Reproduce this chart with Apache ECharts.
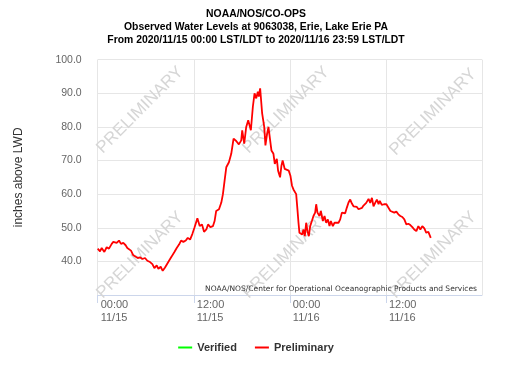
<!DOCTYPE html>
<html>
<head>
<meta charset="utf-8">
<script src="https://cdn.jsdelivr.net/npm/echarts@6/dist/echarts.min.js"></script>
<style>
html,body{margin:0;padding:0;background:#fff;}
#c{width:512px;height:373px;}
</style>
</head>
<body>
<div id="c"></div>
<script>
// Hours since 2020/11/15 00:00 LST/LDT
const hoursFromStart = [
  0.0,0.29,0.5,0.83,1.12,1.41,1.75,1.95,2.16,2.37,2.66,2.91,3.2,3.49,3.7,3.91,4.16,4.45,4.66,5.0,
  5.29,5.58,5.91,6.2,6.54,6.83,7.08,7.37,7.58,7.87,8.12,8.41,8.62,8.91,9.25,9.58,9.87,10.16,10.41,10.7,
  11.0,11.25,11.54,11.83,12.08,12.24,12.45,12.74,13.03,
  13.28,13.57,13.78,14.07,14.4,14.6,14.8,15.15,15.44,15.64,15.85,16.06,16.39,16.68,16.97,17.3,17.63,17.93,18.05,18.3,
  18.55,18.8,19.13,19.38,19.59,19.8,20.0,20.12,20.29,20.54,20.8,20.95,21.16,21.33,21.54,21.7,21.95,22.12,22.37,22.53,
  22.78,22.95,23.1,23.36,23.6,23.86,24.07,24.27,
  24.45,24.79,24.95,25.08,25.2,25.37,25.54,25.7,25.87,26.04,26.2,26.37,26.54,26.75,26.95,27.16,27.29,27.45,27.7,27.87,
  28.12,28.33,28.54,28.75,28.95,29.12,29.37,29.58,29.79,30.08,30.29,30.5,30.7,30.91,31.12,31.33,31.54,31.75,31.95,32.16,
  32.37,32.58,32.79,33.0,33.2,33.54,33.83,34.04,34.25,34.45,34.66,34.87,35.08,
  35.23,35.48,35.77,36.06,36.3,36.56,36.8,
  37.05,37.3,37.55,37.8,38.05,38.3,38.55,38.8,39.05,39.3,39.54,39.8,40.05,40.3,40.54,40.8,41.04,41.3,41.6
];
// Preliminary water level, inches above LWD
const preliminaryLevels = [
  43.8,43.0,44.0,42.8,44.2,43.8,45.2,45.8,46.2,45.5,46.2,45.2,45.5,44.8,44.0,44.2,43.2,41.8,41.5,41.0,
  41.2,40.7,41.0,40.2,39.8,39.2,38.0,38.8,37.8,38.4,37.2,38.2,38.6,40.2,41.5,42.8,44.0,45.0,46.2,45.8,
  46.2,47.0,46.5,48.2,50.0,50.0,52.8,50.5,51.0,
  48.8,49.5,51.0,50.2,50.5,52.0,55.0,55.5,57.5,60.0,64.0,68.0,69.5,72.0,76.5,75.8,74.8,76.0,79.0,75.0,
  80.0,82.0,79.0,86.0,90.0,88.5,90.5,89.0,91.5,84.0,80.0,74.5,78.0,80.0,76.0,73.0,72.0,69.0,70.5,67.0,
  65.0,68.5,70.0,67.5,68.0,67.0,65.5,62.5,
  61.4,60.0,55.4,51.5,48.5,49.0,48.0,49.5,47.5,51.5,49.0,47.5,50.5,52.0,53.5,54.5,57.0,54.5,53.5,55.0,
  52.0,53.5,51.5,52.5,50.5,52.0,50.5,51.5,52.0,51.5,52.5,54.5,55.0,54.3,56.0,57.5,58.4,57.2,56.4,55.9,
  56.2,55.5,55.2,55.9,56.6,57.4,58.6,57.4,58.9,56.4,57.4,58.4,57.0,
  58.0,56.8,57.0,57.0,56.5,55.0,55.5,
  54.5,54.8,54.0,53.5,53.2,52.5,51.0,51.2,50.8,50.2,49.5,49.0,50.5,49.5,50.5,49.8,48.5,48.8,47.0
];
const verifiedLevels = [];
const xTickLabels = ['00:00\n11/15', '12:00\n11/15', '00:00\n11/16', '12:00\n11/16', '00:00\n11/17'];
const titleLines = [
  'NOAA/NOS/CO-OPS',
  'Observed Water Levels at 9063038, Erie, Lake Erie PA',
  'From 2020/11/15 00:00 LST/LDT to 2020/11/16 23:59 LST/LDT'
];
const creditText = 'NOAA/NOS/Center for Operational Oceanographic Products and Services';
const watermarkText = 'PRELIMINARY';

const FONT = '"Liberation Sans", Arial, sans-serif';
const prelimData = hoursFromStart.map((h, i) => [h, preliminaryLevels[i]]);
const verData = verifiedLevels.map(d => d);

const wmCenters = [[140,110],[286,110],[433,112],[140,255],[286,255],[433,255]];
const graphics = wmCenters.map(c => ({
  type: 'text', x: c[0], y: c[1], rotation: Math.PI / 4, z: 1, silent: true,
  style: { text: watermarkText, fill: '#d6d6d6', font: '17px ' + FONT, align: 'center', verticalAlign: 'middle' }
}));
graphics.push({
  type: 'text', x: 477, y: 289, z: 3, silent: true,
  style: { text: creditText, fill: '#333', font: '7.5px "DejaVu Sans", sans-serif', align: 'right', verticalAlign: 'middle' }
});

const chart = echarts.init(document.getElementById('c'), null, { renderer: 'canvas' });
chart.setOption({
  animation: false,
  backgroundColor: '#fff',
  title: {
    text: titleLines.join('\n'),
    left: 'center', top: 3,
    textStyle: { fontFamily: FONT, fontSize: 10.4, fontWeight: 'bold', color: '#000', lineHeight: 12.7 }
  },
  legend: {
    left: 'center', top: 337,
    itemWidth: 14, itemHeight: 2, itemGap: 18, icon: 'rect',
    textStyle: { fontFamily: FONT, fontSize: 11, fontWeight: 'bold', color: '#333' },
    data: ['Verified', 'Preliminary']
  },
  grid: { left: 97.7, right: 30, top: 59.7, bottom: 78, containLabel: false },
  xAxis: {
    type: 'value', min: 0, max: 48, interval: 12,
    axisLine: { show: true, lineStyle: { color: '#ccd6eb' } },
    axisTick: { show: true, length: 8, lineStyle: { color: '#ccd6eb' } },
    splitLine: { show: true, lineStyle: { color: '#e6e6e6' } },
    axisLabel: {
      formatter: v => xTickLabels[Math.round(v / 12)],
      align: 'left', margin: 3, color: '#666', fontFamily: FONT, fontSize: 11, lineHeight: 13,
      showMaxLabel: false, padding: [0, 0, 0, 3]
    }
  },
  yAxis: {
    type: 'value', min: 30, max: 100, interval: 10,
    name: 'inches above LWD', nameLocation: 'middle', nameGap: 73,
    nameTextStyle: { fontFamily: FONT, fontSize: 12, color: '#333' },
    axisLine: { show: false }, axisTick: { show: false },
    splitLine: { show: true, lineStyle: { color: '#e6e6e6' } },
    axisLabel: { formatter: v => v.toFixed(1), color: '#666', fontFamily: FONT, fontSize: 10.5, margin: 16, showMinLabel: false }
  },
  graphic: graphics,
  series: [
    { name: 'Verified', type: 'line', data: verData, showSymbol: false, color: '#00ff00', lineStyle: { width: 1.8, color: '#00ff00' } },
    { name: 'Preliminary', type: 'line', data: prelimData, showSymbol: false, color: '#ff0000', lineStyle: { width: 1.8, color: '#ff0000' }, z: 2 }
  ]
});
</script>
</body>
</html>
